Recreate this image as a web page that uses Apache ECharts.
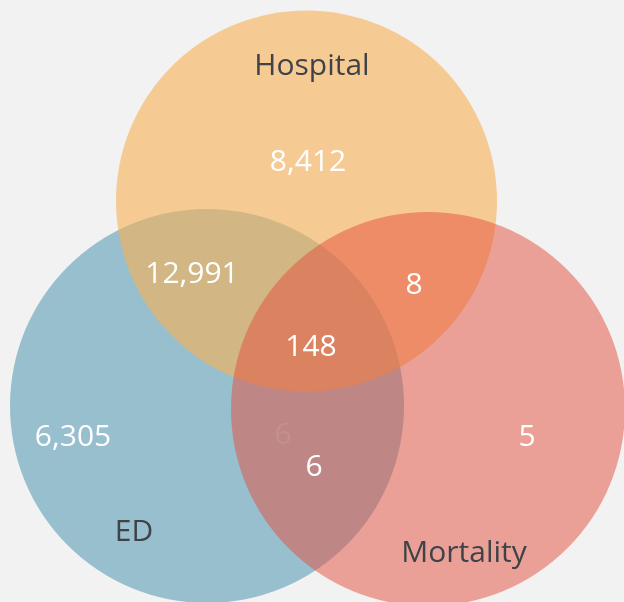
<!DOCTYPE html>
<html>
<head>
<meta charset="utf-8">
<script src="https://cdn.jsdelivr.net/npm/echarts@6/dist/echarts.min.js"></script>
<style>
  html, body { margin: 0; padding: 0; background: #f2f2f2; }
  #chart { width: 624px; height: 602px; }
</style>
</head>
<body>
<div id="chart"></div>
<script>
  // sets and region counts
  var setNames = ['ED', 'Hospital', 'Mortality']
  var regionNames = ['Hospital only', 'ED & Hospital', 'Hospital & Mortality', 'All three', 'ED only', 'ED & Mortality (hidden)', 'ED & Mortality', 'Mortality only']
  var regionValues = [8412, 12991, 8, 148, 6305, 6, 6, 5]

  // venn layout (drawing units, y down)
  var circleCx = [207, 306.5, 428]
  var circleCy = [406, 201, 409]
  var circleR = [197, 190.5, 197]
  var circleColors = ['#3e8caa', '#f9b154', '#e44e3c']
  var circleOpacity = [0.5, 0.6, 0.5]
  var setLabelXY = [[134, 532], [312, 66], [464, 553]]
  var regionLabelXY = [[308, 162], [192, 274], [414, 285], [311, 347], [73, 437], [283, 435], [314, 467], [527, 437]]

  var circleData = setNames.map(function (n, i) {
    return { name: n, value: [circleCx[i], circleCy[i], circleR[i]] }
  })
  var setLabelData = setNames.map(function (n, i) {
    return { name: n, value: setLabelXY[i] }
  })
  var regionLabelData = regionValues.map(function (v, i) {
    return {
      name: regionNames[i],
      value: regionLabelXY[i].concat([v]),
      label: i === 5 ? { color: 'rgba(255,255,255,0.09)' } : {}
    }
  })

  var chart = echarts.init(document.getElementById('chart'))
  chart.setOption({
    backgroundColor: '#f2f2f2',
    animation: false,
    grid: { left: 0, right: 0, top: 0, bottom: 0 },
    xAxis: { type: 'value', min: 0, max: 624, show: false },
    yAxis: { type: 'value', min: 0, max: 602, inverse: true, show: false },
    series: [
      {
        type: 'custom',
        data: circleData,
        renderItem: function (params, api) {
          var c = api.coord([api.value(0), api.value(1)])
          var r = api.size([api.value(2), 0])[0]
          var i = params.dataIndex
          return {
            type: 'circle',
            shape: { cx: c[0], cy: c[1], r: r },
            style: { fill: circleColors[i], opacity: circleOpacity[i] }
          }
        }
      },
      {
        type: 'scatter',
        symbolSize: 0,
        itemStyle: { opacity: 1 },
        data: setLabelData,
        label: {
          show: true,
          position: 'inside',
          formatter: '{b}',
          color: '#3f4347',
          fontSize: 30,
          fontFamily: 'Open Sans'
        }
      },
      {
        type: 'scatter',
        symbolSize: 0,
        itemStyle: { opacity: 1 },
        data: regionLabelData,
        label: {
          show: true,
          position: 'inside',
          formatter: function (p) { return p.value[2].toLocaleString('en-US') },
          color: '#ffffff',
          fontSize: 30,
          fontFamily: 'Open Sans'
        }
      }
    ]
  })
</script>
</body>
</html>
